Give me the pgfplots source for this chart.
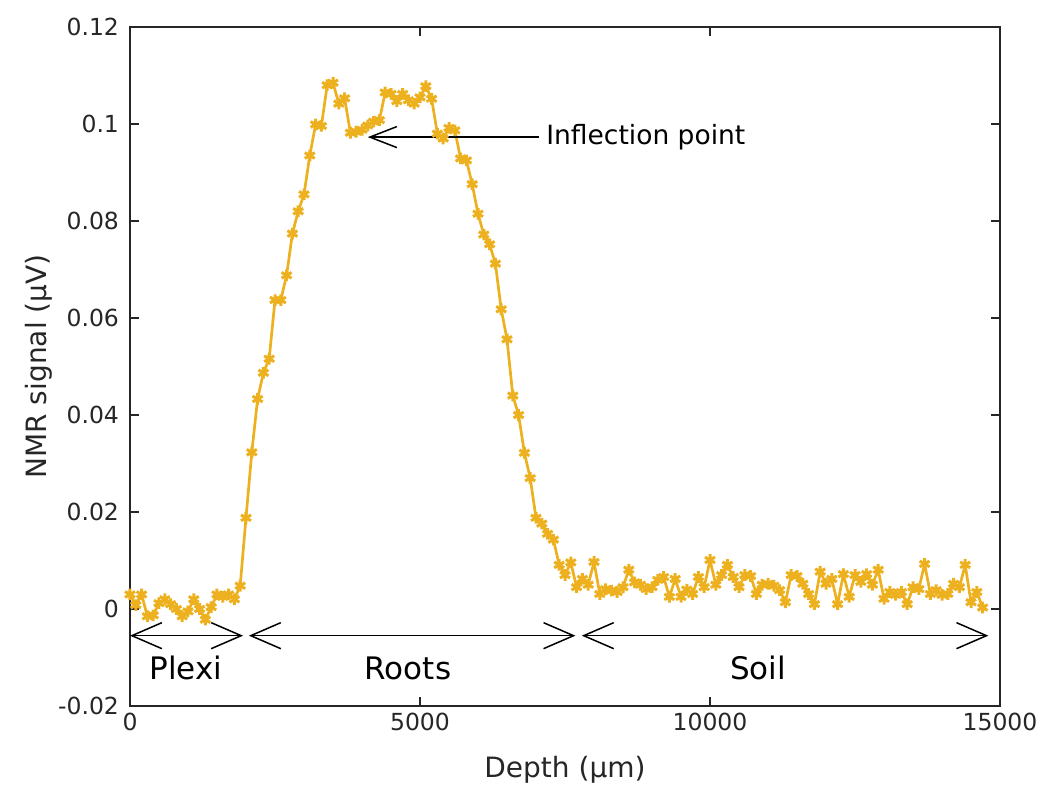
\documentclass[border=0pt]{standalone}
\usepackage{fontspec}
\setmainfont{DejaVu Sans}
\usepackage{pgfplots}
\pgfplotsset{compat=1.18}
\usetikzlibrary{arrows.meta}
\definecolor{mlyellow}{rgb}{0.929,0.694,0.125}
\definecolor{axgray}{HTML}{262626}
\pgfplotstableread{
x y
0 0.0030
100 0.0008
200 0.0030
300 -0.0015
400 -0.0013
500 0.0012
600 0.0020
700 0.0010
800 0.0000
900 -0.0015
1000 -0.0005
1100 0.0020
1200 0.0000
1300 -0.0022
1400 0.0004
1500 0.0030
1600 0.0025
1700 0.0030
1800 0.0020
1900 0.0048
2000 0.0188
2100 0.0323
2200 0.0433
2300 0.0487
2400 0.0516
2500 0.0637
2600 0.0637
2700 0.0688
2800 0.0774
2900 0.0820
3000 0.0855
3100 0.0935
3200 0.0999
3300 0.0996
3400 0.1080
3500 0.1085
3600 0.1042
3700 0.1053
3800 0.0982
3900 0.0984
4000 0.0988
4100 0.0997
4200 0.1005
4300 0.1008
4400 0.1065
4500 0.1062
4600 0.1047
4700 0.1062
4800 0.1049
4900 0.1042
5000 0.1055
5100 0.1078
5200 0.1052
5300 0.0980
5400 0.0970
5500 0.0992
5600 0.0987
5700 0.0929
5800 0.0925
5900 0.0876
6000 0.0815
6100 0.0772
6200 0.0752
6300 0.0712
6400 0.0618
6500 0.0556
6600 0.0440
6700 0.0400
6800 0.0322
6900 0.0270
7000 0.0188
7100 0.0176
7200 0.0155
7300 0.0143
7400 0.0091
7500 0.0070
7600 0.0096
7700 0.0045
7800 0.0062
7900 0.0050
8000 0.0097
8100 0.0031
8200 0.0041
8300 0.0038
8400 0.0035
8500 0.0045
8600 0.0081
8700 0.0055
8800 0.0050
8900 0.0041
9000 0.0045
9100 0.0060
9200 0.0066
9300 0.0025
9400 0.0062
9500 0.0025
9600 0.0040
9700 0.0031
9800 0.0066
9900 0.0045
10000 0.0101
10100 0.0050
10200 0.0070
10300 0.0091
10400 0.0066
10500 0.0045
10600 0.0070
10700 0.0068
10800 0.0031
10900 0.0050
11000 0.0052
11100 0.0048
11200 0.0039
11300 0.0014
11400 0.0070
11500 0.0068
11600 0.0052
11700 0.0031
11800 0.0010
11900 0.0077
12000 0.0052
12100 0.0062
12200 0.0010
12300 0.0072
12400 0.0025
12500 0.0070
12600 0.0056
12700 0.0072
12800 0.0050
12900 0.0081
13000 0.0021
13100 0.0035
13200 0.0029
13300 0.0035
13400 0.0010
13500 0.0045
13600 0.0041
13700 0.0093
13800 0.0031
13900 0.0039
14000 0.0029
14100 0.0031
14200 0.0052
14300 0.0045
14400 0.0091
14500 0.0014
14600 0.0035
14700 0.0003
}\nmrdata
\begin{document}
\begin{tikzpicture}
\begin{axis}[
  scale only axis, width=435pt, height=339.5pt,
  xmin=0, xmax=15000, ymin=-0.02, ymax=0.12,
  scaled x ticks=false, scaled y ticks=false,
  xtick={0,5000,10000,15000}, xticklabels={0,5000,10000,15000},
  ytick={-0.02,0,0.02,0.04,0.06,0.08,0.1,0.12},
  yticklabels={-0.02,0,0.02,0.04,0.06,0.08,0.1,0.12},
  tick align=inside, major tick length=4.5pt,
  axis line style={axgray, line width=0.6pt},
  every tick/.append style={axgray, line width=0.6pt},
  tick label style={font=\fontsize{11.75}{14}\selectfont, text=axgray},
  yticklabel style={xshift=-2pt},
  label style={font=\fontsize{14}{17}\selectfont, text=axgray},
  xlabel={Depth (µm)}, ylabel={NMR signal (µV)},
  xlabel style={at={(axis description cs:0.5,-0.094)}, anchor=center},
  ylabel style={at={(axis description cs:-0.1045,0.5)}, anchor=center},
  clip=false,
]
\addplot[color=mlyellow, line width=1.35pt, mark=asterisk, mark size=2.9pt,
  mark options={line width=1.5pt, solid}] table[x=x,y=y] {\nmrdata};
\draw[{Straight Barb[length=15pt,width=13pt]}-{Straight Barb[length=15pt,width=13pt]}, line width=0.75pt]
  (axis cs:0,-0.0055) -- (axis cs:1950,-0.0055);
\draw[{Straight Barb[length=15pt,width=13pt]}-{Straight Barb[length=15pt,width=13pt]}, line width=0.75pt]
  (axis cs:2050,-0.0055) -- (axis cs:7680,-0.0055);
\draw[{Straight Barb[length=15pt,width=13pt]}-{Straight Barb[length=15pt,width=13pt]}, line width=0.75pt]
  (axis cs:7790,-0.0055) -- (axis cs:14800,-0.0055);
\node[font=\fontsize{15.5}{18}\selectfont] at (axis cs:965,-0.0122) {Plexi};
\node[font=\fontsize{15.5}{18}\selectfont] at (axis cs:4793,-0.0122) {Roots};
\node[font=\fontsize{15.5}{18}\selectfont] at (axis cs:10828,-0.0122) {Soil};
\draw[{Straight Barb[length=13.5pt,width=10.5pt]}-, line width=0.75pt]
  (axis cs:4100,0.0973) -- (axis cs:7050,0.0973);
\node[anchor=west, inner sep=0pt, font=\fontsize{13.25}{16}\selectfont] at (axis cs:7172,0.0973) {Inflection point};
\end{axis}
\pgfresetboundingbox
\path ([shift={(-65pt,-40.5pt)}]current axis.south west) rectangle ([shift={(22.5pt,13.5pt)}]current axis.north east);
\end{tikzpicture}
\end{document}
